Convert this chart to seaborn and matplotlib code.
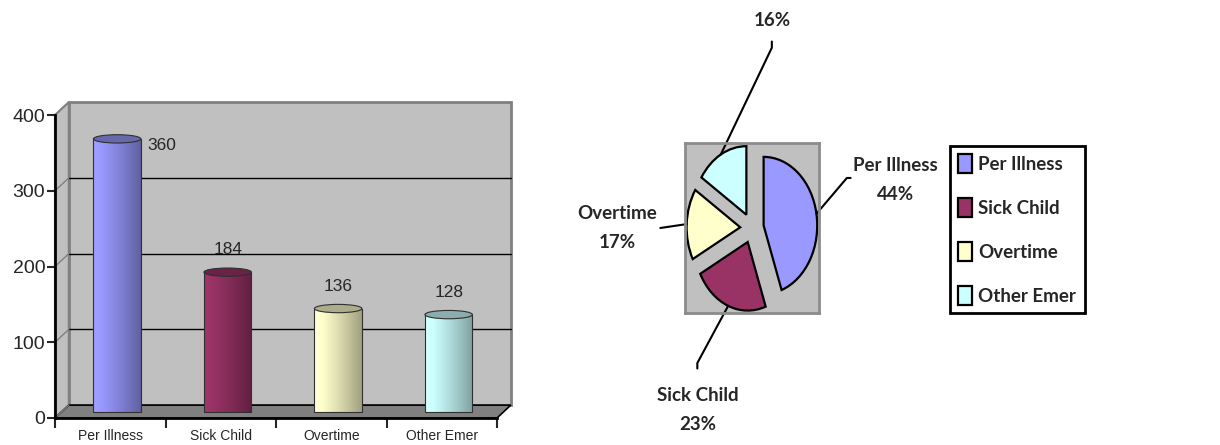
import matplotlib
matplotlib.use("Agg")
import matplotlib.pyplot as plt
import matplotlib.patches as mpatches
import numpy as np
import seaborn as sns
from matplotlib.colors import to_rgb
from matplotlib.font_manager import FontProperties

# datos
categories = ["Per Illness", "Sick Child", "Overtime", "Other Emer"]
counts = [360, 184, 136, 128]
pie_labels = ["Per Illness\n44%", "Sick Child\n23%", "Overtime\n17%", "16%"]
bar_colors = ["#9999FF", "#993366", "#FFFFCC", "#CCFFFF"]
y_ticks = [0, 100, 200, 300, 400]

sns.set_style("white")
plt.rcParams['font.family'] = ['Liberation Sans', 'DejaVu Sans']

W, H = 1220, 445
fig = plt.figure(figsize=(W / 100, H / 100), dpi=100)

# ---------------- barras (estilo 3D de Excel) ----------------
ax = fig.add_axes([55 / W, (H - 418) / H, (497 - 55) / W, (418 - 115) / H])
sns.barplot(x=categories, y=counts, hue=categories, palette=bar_colors,
            saturation=1, width=0.43, legend=False, ax=ax)
bars = [p for c in ax.containers for p in c]
ax.set_xlim(-0.5, 3.5)
ax.set_ylim(0, 400)
ax.set_facecolor('none')

dx, dy = 0.125, 17  # profundidad de la pared del fondo

back = mpatches.Polygon([(-0.5 + dx, dy), (3.5 + dx, dy), (3.5 + dx, 400 + dy), (-0.5 + dx, 400 + dy)],
                        closed=True, fc="#C0C0C0", ec="#808080", lw=2, clip_on=False, zorder=0)
side = mpatches.Polygon([(-0.5, 0), (-0.5, 400), (-0.5 + dx, 400 + dy), (-0.5 + dx, dy)],
                        closed=True, fc="#C0C0C0", ec="#808080", lw=1.5, clip_on=False, zorder=0)
floor = mpatches.Polygon([(-0.5, 0), (3.5, 0), (3.5 + dx, dy), (-0.5 + dx, dy)],
                         closed=True, fc="#808080", ec="black", lw=1.2, clip_on=False, zorder=0.5)
for pp in (back, side, floor):
    ax.add_patch(pp)
for v in y_ticks[1:-1]:
    ax.plot([-0.5 + dx, 3.5 + dx], [v + dy, v + dy], color="black", lw=1, clip_on=False, zorder=0.6)
for v in y_ticks:
    ax.plot([-0.5, -0.5 + dx], [v, v + dy], color="#808080", lw=1, clip_on=False, zorder=0.6)

t = np.linspace(0, 1, 80)
shade = 1.05 - 0.42 * t ** 1.2
for p, col, v in zip(bars, bar_colors, counts):
    p.set_x(p.get_x() + dx / 2)
    p.set_y(dy / 2)
    x0, w, y0, h = p.get_x(), p.get_width(), p.get_y(), p.get_height()
    base = np.array(to_rgb(col))
    grad = np.clip(base[None, :] * shade[:, None], 0, 1)
    im = ax.imshow(grad[None, :, :], extent=[x0, x0 + w, y0, y0 + h], aspect='auto',
                   zorder=2, interpolation='bilinear')
    im.set_clip_path(p)
    p.set_facecolor('none')
    p.set_edgecolor('#303030')
    p.set_linewidth(0.8)
    p.set_zorder(3)
    cap = mpatches.Ellipse((x0 + w / 2, y0 + h), w, 11, fc=np.clip(base * 0.68, 0, 1),
                           ec='#303030', lw=0.8, zorder=4)
    ax.add_patch(cap)
    top = y0 + h
    if top + 35 > 400:
        ax.annotate(str(v), (x0 + w, v), xytext=(5, 0), textcoords='offset points',
                    ha='left', va='center', fontsize=12.5)
    else:
        ax.annotate(str(v), (x0 + w / 2, top), xytext=(0, 16), textcoords='offset points',
                    ha='center', va='center', fontsize=12.5)

ax.set_xlim(-0.5, 3.5)
ax.set_ylim(0, 400)
ax.set_yticks(y_ticks)
ax.set_xticks(range(len(categories)))
ax.set_xticklabels(categories)
ax.set_xticks(np.arange(-0.5, 4, 1), minor=True)
ax.tick_params(axis='y', length=6, width=1.5, direction='out', pad=1, labelsize=14, left=True)
ax.tick_params(axis='x', which='major', length=0, pad=8, labelsize=10)
ax.tick_params(axis='x', which='minor', length=7, width=1.5, direction='out', bottom=True)
ax.set_xlabel('')
ax.set_ylabel('')
sns.despine(ax=ax)
for s in ('left', 'bottom'):
    ax.spines[s].set_color('black')
    ax.spines[s].set_linewidth(2)
    ax.spines[s].set_zorder(5)

# ---------------- tarta ----------------
ax2 = fig.add_axes([685 / W, (H - 313) / H, 134 / W, 170 / H])
wedges, _ = ax2.pie(counts, colors=bar_colors, explode=[0.22] * 4, startangle=90,
                    counterclock=False, wedgeprops=dict(edgecolor='black', linewidth=1.6))
ax2.set_aspect('auto')
ax2.set_frame_on(True)
ax2.set_xlim(-1.25, 1.25)
ax2.set_ylim(-1.24, 1.24)
ax2.set_facecolor('#C0C0C0')
ax2.set_xticks([])
ax2.set_yticks([])
for s in ax2.spines.values():
    s.set_visible(True)
    s.set_color('#8C8C8C')
    s.set_linewidth(2)

label_xy = [(2.68, 0.70), (-1.02, -2.65), (-2.51, 0.0), (0.37, 3.03)]
elbow_xy = [(1.77, 0.73), (-1.02, -1.97), (-1.71, 0.0), (0.37, 2.63)]
end_xy = [(1.84, 0.73), (-1.02, -2.05), (-1.71, 0.0), (0.37, 2.72)]
lab_font = dict(family=['Lato', 'DejaVu Sans'], weight='bold', size=13.5)
for wdg, txt, lxy, exy, nxy in zip(wedges, pie_labels, label_xy, elbow_xy, end_xy):
    mid = np.deg2rad((wdg.theta1 + wdg.theta2) / 2)
    cx, cy = wdg.center
    sx, sy = cx + wdg.r * np.cos(mid), cy + wdg.r * np.sin(mid)
    ax2.plot([sx, exy[0], nxy[0]], [sy, exy[1], nxy[1]], color='black', lw=1.5, clip_on=False)
    ax2.text(lxy[0], lxy[1], txt, ha='center', va='center', linespacing=1.85,
             clip_on=False, **lab_font)

leg = fig.legend(wedges, categories, loc='upper left', bbox_to_anchor=(950 / W, 1 - 146 / H),
                 frameon=True, fancybox=False, edgecolor='black', framealpha=1,
                 prop=FontProperties(family=['Lato', 'DejaVu Sans'], weight='bold', size=13.5),
                 handlelength=0.72, handleheight=1.15, handletextpad=0.35,
                 labelspacing=1.35, borderpad=0.45, borderaxespad=0)
leg.get_frame().set_linewidth(2)

fig.savefig("out.png", dpi=100)
